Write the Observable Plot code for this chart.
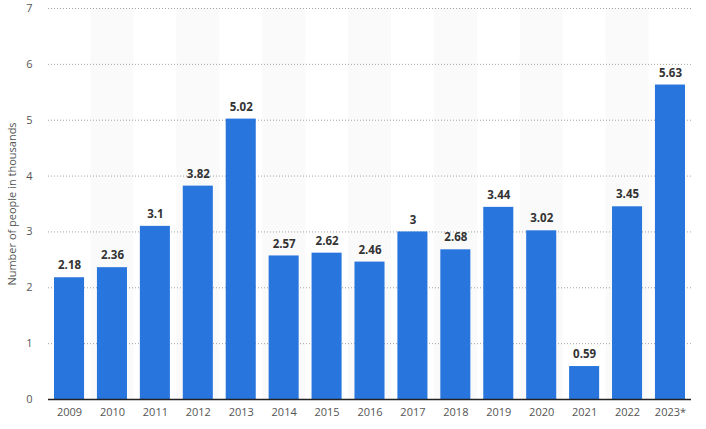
<!DOCTYPE html>
<html><head><meta charset="utf-8">
<script src="https://cdn.jsdelivr.net/npm/d3@7"></script>
<script src="https://cdn.jsdelivr.net/npm/@observablehq/plot@0.6"></script>
<style>body{margin:0;background:#fff;font-family:"Open Sans",sans-serif}</style>
</head><body><div id="chart"></div>
<script>
const years = ["2009","2010","2011","2012","2013","2014","2015","2016","2017","2018","2019","2020","2021","2022","2023*"];
const values = [2.18,2.36,3.1,3.82,5.02,2.57,2.62,2.46,3,2.68,3.44,3.02,0.59,3.45,5.63];
const yTicks = [0,1,2,3,4,5,6,7];
const data = years.map((y,i)=>({year:y, value:values[i], idx:i}));
const stripes = data.filter(d=>d.idx%2===1);
const chart = Plot.plot({
  width:706, height:429,
  marginLeft:48, marginRight:15, marginTop:8, marginBottom:30,
  style:{fontFamily:"'Open Sans', sans-serif", fontSize:"11px", color:"#555"},
  x:{domain:years, paddingInner:0.3, paddingOuter:0.14, round:false, label:null, tickSize:0, tickPadding:9},
  y:{domain:[0,7], ticks:yTicks, tickFormat:"d", label:"Number of people in thousands", labelAnchor:"center", labelOffset:40, labelArrow:"none", tickSize:0, tickPadding:16},
  marks:[
    Plot.barY(stripes, {x:"year", y1:0, y2:7, fill:"#fafafa", insetLeft:-6.5, insetRight:-6.5}),
    Plot.gridY(yTicks.filter(t=>t>0), {stroke:"#999", strokeDasharray:"1,2", strokeOpacity:0.9}),
    Plot.barY(data, {x:"year", y:"value", fill:"#2876dd"}),
    Plot.ruleY([0], {stroke:"#222", strokeWidth:1.3}),
    Plot.text(data, {x:"year", y:"value", text:d=>String(d.value), dy:-12, fontWeight:"bold", fill:"#333", fontSize:11.5})
  ]
});
document.getElementById("chart").append(chart);
</script></body></html>
